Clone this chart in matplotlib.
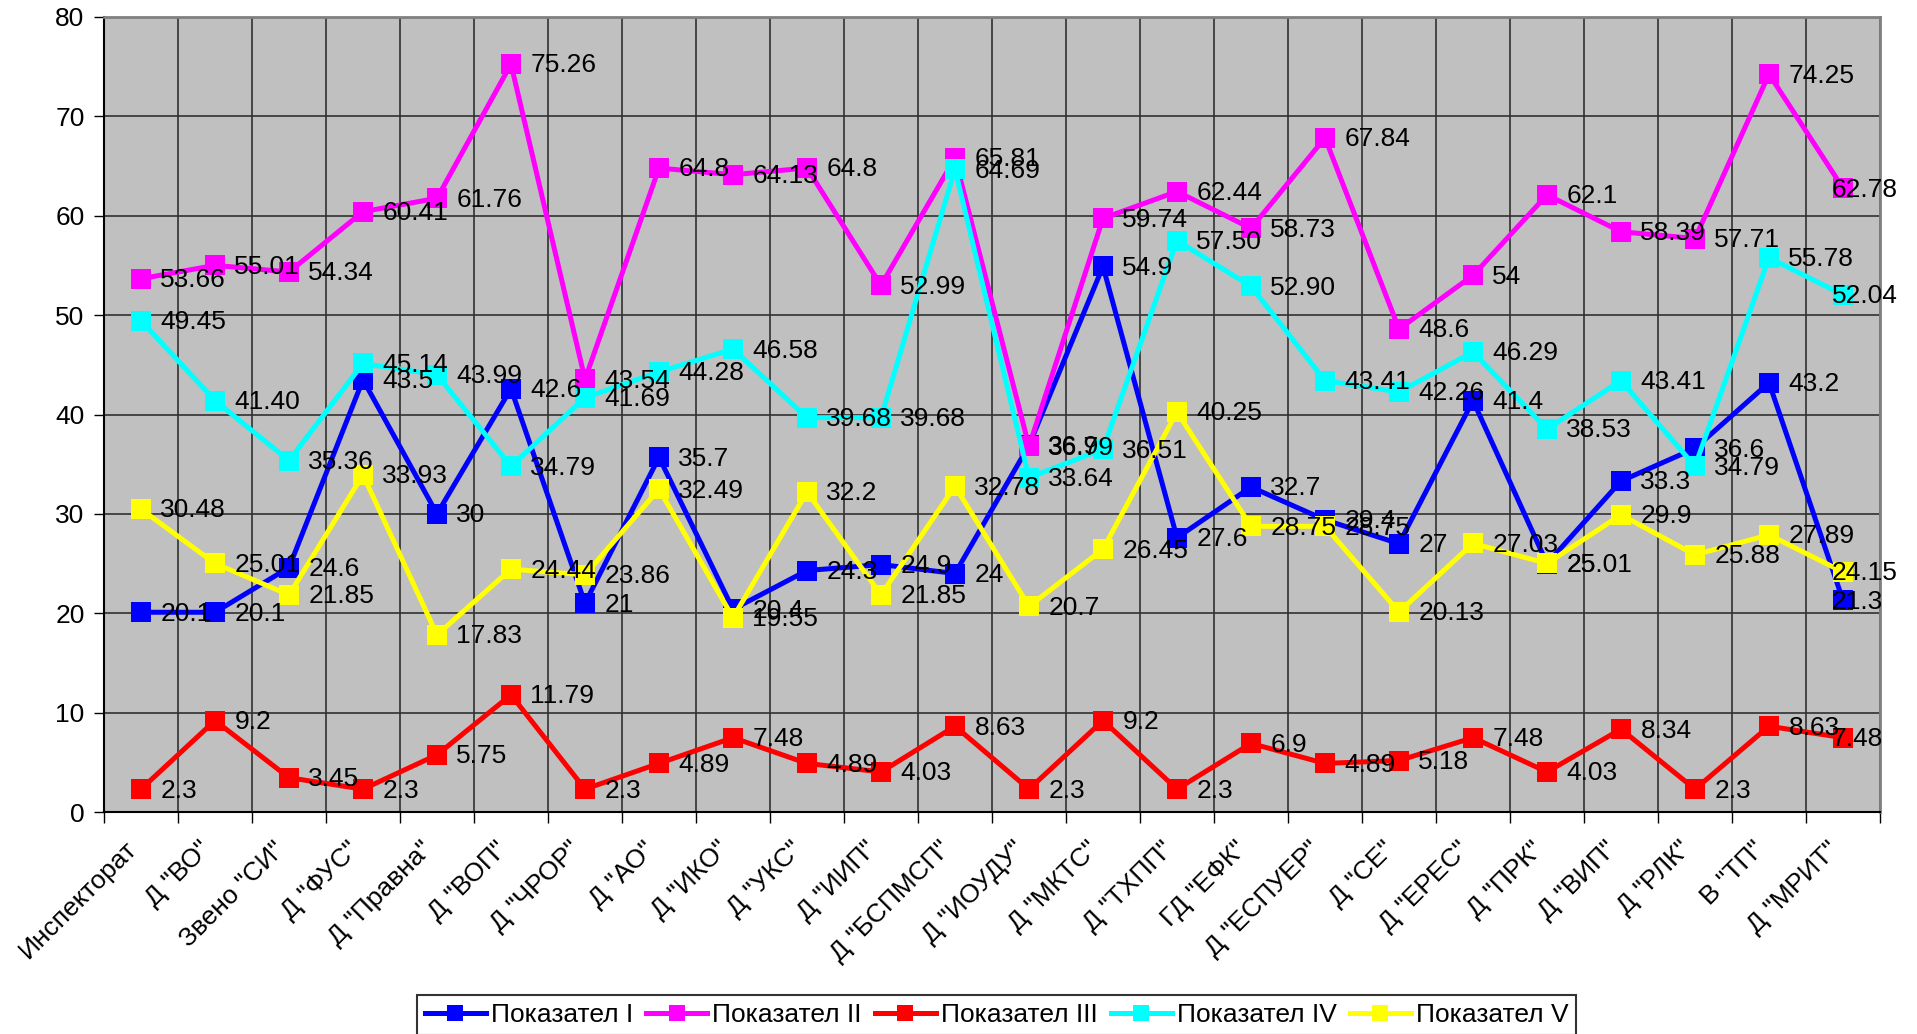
import matplotlib
matplotlib.use("Agg")
import matplotlib.pyplot as plt
from matplotlib.ticker import MultipleLocator, FixedLocator
from matplotlib.transforms import ScaledTranslation

plt.rcParams['font.family'] = ['Liberation Sans', 'DejaVu Sans']

categories = ['Инспекторат', 'Д "ВО"', 'Звено "СИ"', 'Д "ФУС"', 'Д "Правна"', 'Д "ВОП"',
              'Д "ЧРОР"', 'Д "АО"', 'Д "ИКО"', 'Д "УКС"', 'Д "ИИП"', 'Д "БСПМСП"',
              'Д "ИОУДУ"', 'Д "МКТС"', 'Д "ТХПП"', 'ГД "ЕФК"', 'Д "ЕСПУЕР"', 'Д "СЕ"',
              'Д "ЕРЕС"', 'Д "ПРК"', 'Д "ВИП"', 'Д "РЛК"', 'В "ТП"', 'Д "МРИТ"']

pokazatel_1 = [20.1, 20.1, 24.6, 43.5, 30, 42.6, 21, 35.7, 20.4, 24.3, 24.9, 24,
               36.9, 54.9, 27.6, 32.7, 29.4, 27, 41.4, 25.0, 33.3, 36.6, 43.2, 21.3]
pokazatel_2 = [53.66, 55.01, 54.34, 60.41, 61.76, 75.26, 43.54, 64.8, 64.13, 64.8, 52.99, 65.81,
               36.79, 59.74, 62.44, 58.73, 67.84, 48.6, 54, 62.1, 58.39, 57.71, 74.25, 62.78]
pokazatel_3 = [2.3, 9.2, 3.45, 2.3, 5.75, 11.79, 2.3, 4.89, 7.48, 4.89, 4.03, 8.63,
               2.3, 9.2, 2.3, 6.9, 4.89, 5.18, 7.48, 4.03, 8.34, 2.3, 8.63, 7.48]
pokazatel_4 = [49.45, 41.40, 35.36, 45.14, 43.99, 34.79, 41.69, 44.28, 46.58, 39.68, 39.68, 64.69,
               33.64, 36.51, 57.50, 52.90, 43.41, 42.26, 46.29, 38.53, 43.41, 34.79, 55.78, 52.04]
pokazatel_5 = [30.48, 25.01, 21.85, 33.93, 17.83, 24.44, 23.86, 32.49, 19.55, 32.2, 21.85, 32.78,
               20.7, 26.45, 40.25, 28.75, 28.75, 20.13, 27.03, 25.01, 29.9, 25.88, 27.89, 24.15]

series_names = ['Показател I', 'Показател II', 'Показател III', 'Показател IV', 'Показател V']
series_values = [pokazatel_1, pokazatel_2, pokazatel_3, pokazatel_4, pokazatel_5]
series_colors = ['#0000FF', '#FF00FF', '#FF0000', '#00FFFF', '#FFFF00']
series_formats = ['{:g}', '{:g}', '{:g}', '{:.2f}', '{:g}']

FS = 19
W, H = 1917, 1034
fig = plt.figure(figsize=(W / 100, H / 100), dpi=100)
left, right, top, bottom = 104, 1880, 17, 812
ax = fig.add_axes([left / W, 1 - bottom / H, (right - left) / W, (bottom - top) / H])
ax.set_facecolor('#C0C0C0')

x = list(range(len(categories)))
handles = []
for name, vals, col in zip(series_names, series_values, series_colors):
    h, = ax.plot(x, vals, color=col, lw=3.6, marker='s', markersize=14.5,
                 markeredgewidth=0, label=name, zorder=3, clip_on=False)
    handles.append(h)

n = len(categories)
for vals, fmt in zip(series_values, series_formats):
    for xi, v in zip(x, vals):
        dx = 14 if xi < n - 1 else -8
        ax.annotate(fmt.format(v), (xi, v), xytext=(dx, -1), textcoords='offset points',
                    ha='left', va='center', fontsize=FS, color='black', zorder=5,
                    annotation_clip=False)

ax.set_xlim(-0.5, n - 0.5)
ax.set_ylim(0, 80)
ax.yaxis.set_major_locator(MultipleLocator(10))
ax.set_xticks(x)
ax.set_xticklabels(categories, rotation=45, ha='right', va='center', rotation_mode='anchor',
                   fontsize=FS)
ax.tick_params(axis='x', which='major', length=0, pad=24)
shift = ScaledTranslation(-8 / 100, 0, fig.dpi_scale_trans)
for lab in ax.get_xticklabels():
    lab.set_transform(lab.get_transform() + shift)
ax.xaxis.set_minor_locator(FixedLocator([i - 0.5 for i in range(n + 1)]))
ax.tick_params(axis='x', which='minor', length=8, width=1, color='black', direction='out')
ax.tick_params(axis='y', which='major', length=7, width=1, color='black', direction='out',
               labelsize=FS, pad=7)

ax.grid(True, axis='y', which='major', color='#303030', lw=1.2, zorder=1)
ax.grid(True, axis='x', which='minor', color='#303030', lw=1.2, zorder=1)
ax.set_axisbelow(True)

for side in ['top', 'right']:
    ax.spines[side].set_color('#808080')
    ax.spines[side].set_linewidth(2)
for side in ['left', 'bottom']:
    ax.spines[side].set_color('black')
    ax.spines[side].set_linewidth(1.5)

leg = fig.legend(handles=handles, loc='upper left', bbox_to_anchor=(417 / W, 1 - 995 / H),
                 ncol=5, fontsize=FS, frameon=True, fancybox=False, edgecolor='black',
                 handlelength=2.3, handletextpad=0.2, columnspacing=0.5, borderpad=0.3,
                 borderaxespad=0, markerscale=0.8)
leg.get_frame().set_linewidth(1.5)

fig.savefig('out.png', dpi=100)
